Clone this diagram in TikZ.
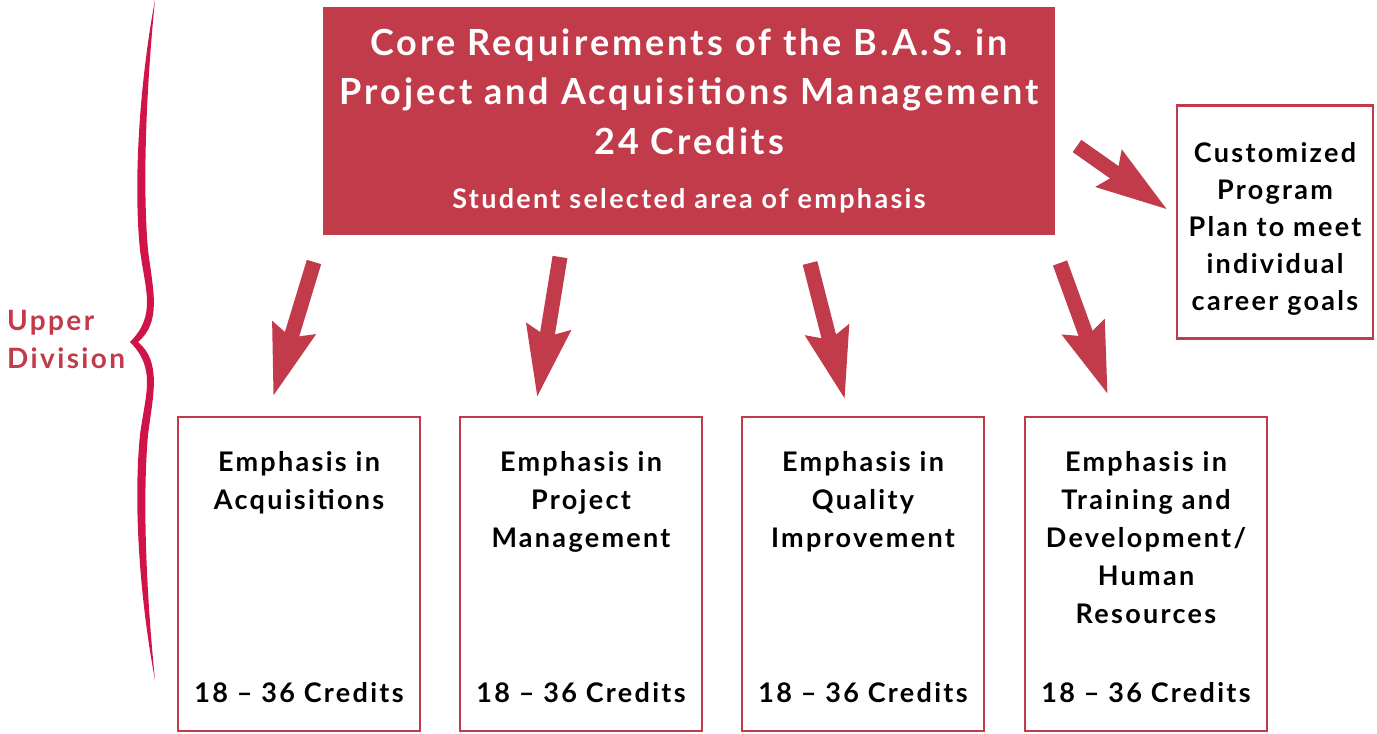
\documentclass[tikz,border=0pt]{standalone}
\usepackage{fontspec}
\setmainfont{Lato}[LetterSpace=8.5]
\usetikzlibrary{positioning,arrows.meta}
\definecolor{basred}{RGB}{194,59,75}
\definecolor{bracered}{RGB}{208,20,72}

\begin{document}
\begin{tikzpicture}[x=1pt,y=-1pt,
  corebox/.style={fill=basred, text=white, inner sep=0pt, minimum width=732pt,
    minimum height=228pt, align=center, font=\bfseries\fontsize{36}{49.5}\selectfont},
  ebox/.style={draw=basred, line width=2.5pt, minimum width=242pt, minimum height=314pt},
  etext/.style={align=center, inner sep=0pt, font=\bfseries\fontsize{27}{38}\selectfont},
  bigarrow/.style={basred, line width=15pt, -{Stealth[length=70pt,width=42pt,inset=8pt]}}]
\useasboundingbox (0,0) rectangle (1377,734);
% core box
\node[corebox] (core) at (689,121) {Core Requirements of the B.A.S. in\\
  Project and Acquisitions Management\\24 Credits\\[5pt]
  {\fontsize{27}{30}\selectfont Student selected area of emphasis}};
% customized plan
\node[draw=basred, line width=2.5pt, minimum width=196pt, minimum height=233pt] (plan) at (1275,222) {};
\node[etext, font=\bfseries\fontsize{27}{37}\selectfont] (planT) at (1275,229) {Customized\\Program\\Plan to meet\\individual\\career goals};
% emphasis boxes
\node[ebox] (acq) at (299,574) {};
\node[ebox] (pm) at (581,574) {};
\node[ebox] (qi) at (863,574) {};
\node[ebox] (td) at (1146,574) {};
\node[etext, below=35pt of acq.north] (acqT) {Emphasis in\\Acquisitions};
\node[etext, below=35pt of pm.north] (pmT) {Emphasis in\\Project\\Management};
\node[etext, below=35pt of qi.north] (qiT) {Emphasis in\\Quality\\Improvement};
\node[etext, below=35pt of td.north] (tdT) {Emphasis in\\Training and\\Development/\\Human\\Resources};
\node[etext, above=29pt of acq.south] (acqC) {18 -- 36 Credits};
\node[etext, above=29pt of pm.south] (pmC) {18 -- 36 Credits};
\node[etext, above=29pt of qi.south] (qiC) {18 -- 36 Credits};
\node[etext, above=29pt of td.south] (tdC) {18 -- 36 Credits};
% arrows
\coordinate (a1) at (314,262); \coordinate (b1) at (273,397);
\coordinate (a2) at (560,257); \coordinate (b2) at (537,398);
\coordinate (a3) at (810,263); \coordinate (b3) at (845,400);
\coordinate (a4) at (1060,263); \coordinate (b4) at (1108,395);
\coordinate (a5) at (1077,146); \coordinate (b5) at (1168,210);
\foreach \i in {1,...,5}
  \draw[bigarrow] (a\i) -- (b\i);
% brace
\fill[bracered] (155,0) .. controls (140,80) and (133,180) .. (140,250)
  .. controls (145,290) and (157,315) .. (130,342)
  .. controls (157,369) and (145,395) .. (140,435)
  .. controls (133,505) and (140,600) .. (155,680)
  .. controls (147,600) and (142,505) .. (148,435)
  .. controls (153,395) and (162,362) .. (138,342)
  .. controls (162,322) and (153,290) .. (148,250)
  .. controls (142,180) and (147,80) .. (155,0) -- cycle;
\node[text=basred, align=left, inner sep=0pt, anchor=west,
  font=\bfseries\fontsize{28}{38}\selectfont] (upper) at (7,339) {Upper\\Division};
\end{tikzpicture}
\end{document}
